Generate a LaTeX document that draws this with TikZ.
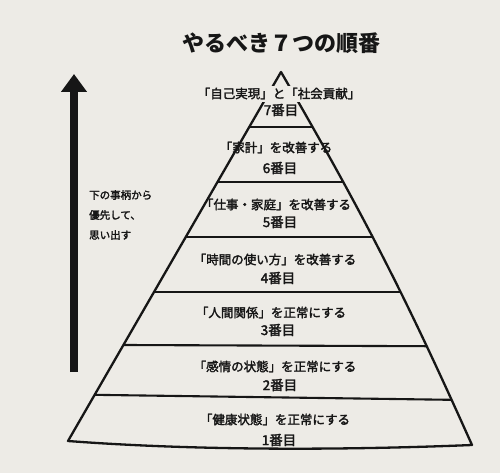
\documentclass[tikz,border=0pt]{standalone}
\usepackage{fontspec}
\usetikzlibrary{arrows.meta}
\newfontfamily\jp{Noto Sans CJK JP}
\newfontfamily\jpm[FakeBold=2.2]{Noto Sans CJK JP}
\definecolor{bg}{RGB}{237,235,230}
\definecolor{ink}{RGB}{22,22,22}
\tikzset{
  edge/.style={draw=ink, line width=2.3pt, line join=round},
  divider/.style={draw=ink, line width=2.1pt},
  lineone/.style={text=ink, inner xsep=1pt, inner ysep=1.5pt, text height=10.5pt, text depth=2pt, font=\jpm\fontsize{12.5}{14}\selectfont},
  linetwo/.style={text=ink, inner sep=1pt, font=\jpm\fontsize{13.5}{15}\selectfont},
  notetext/.style={text=ink, anchor=west, inner sep=0pt, font=\jpm\fontsize{10.5}{12}\selectfont},
}
\begin{document}
\begin{tikzpicture}[x=1pt,y=-1pt]
\fill[bg] (0,0) rectangle (500,473);
\useasboundingbox (0,0) rectangle (500,473);

% title
\node[text=ink, font=\jp\bfseries\fontsize{22}{24}\selectfont] (title) at (281,43) {やるべき７つの順番};

% arrow
\coordinate (arrbottom) at (74,372);
\coordinate (arrtop) at (74,74);
\draw[ink, line width=8pt, -{Triangle[width=25pt,length=18pt]}] (arrbottom) -- (arrtop);

\node[notetext] (note1) at (89,195) {下の事柄から};
\node[notetext] (note2) at (89,215) {優先して、};
\node[notetext] (note3) at (89,235) {思い出す};

% pyramid
\coordinate (apex) at (281,72);
\coordinate (baseL) at (68,441);
\coordinate (baseR) at (472,445);

\begin{scope}
\clip (apex) to[bend left=3] (baseR) .. controls (350,450) and (200,451) .. (baseL) -- cycle;
\draw[divider] (0,127) -- (500,127);
\draw[divider] (0,182) -- (500,182);
\draw[divider] (0,237) -- (500,237);
\draw[divider] (0,292) -- (500,292);
\draw[divider] (0,344.5) -- (500,346.5);
\draw[divider] (0,393.5) -- (500,400.5);
\end{scope}
\draw[edge] (apex) to[bend left=3] (baseR) .. controls (350,450) and (200,451) .. (baseL) -- cycle;

% tier labels
\node[lineone, fill=bg] (t7a) at (279,94) {「自己実現」と「社会貢献」};
\node[linetwo] (t7b) at (281,110) {7番目};
\node[lineone] (t6a) at (276,148) {「家計」を改善する};
\node[linetwo] (t6b) at (280,168) {6番目};
\node[lineone] (t5a) at (276,205) {「仕事・家庭」を改善する};
\node[linetwo] (t5b) at (280,222) {5番目};
\node[lineone] (t4a) at (275,260) {「時間の使い方」を改善する};
\node[linetwo] (t4b) at (278,278) {4番目};
\node[lineone] (t3a) at (271,313) {「人間関係」を正常にする};
\node[linetwo] (t3b) at (278,330) {3番目};
\node[lineone] (t2a) at (275,367) {「感情の状態」を正常にする};
\node[linetwo] (t2b) at (280,385) {2番目};
\node[lineone] (t1a) at (275,420) {「健康状態」を正常にする};
\node[linetwo] (t1b) at (279,440) {1番目};
\end{tikzpicture}
\end{document}
